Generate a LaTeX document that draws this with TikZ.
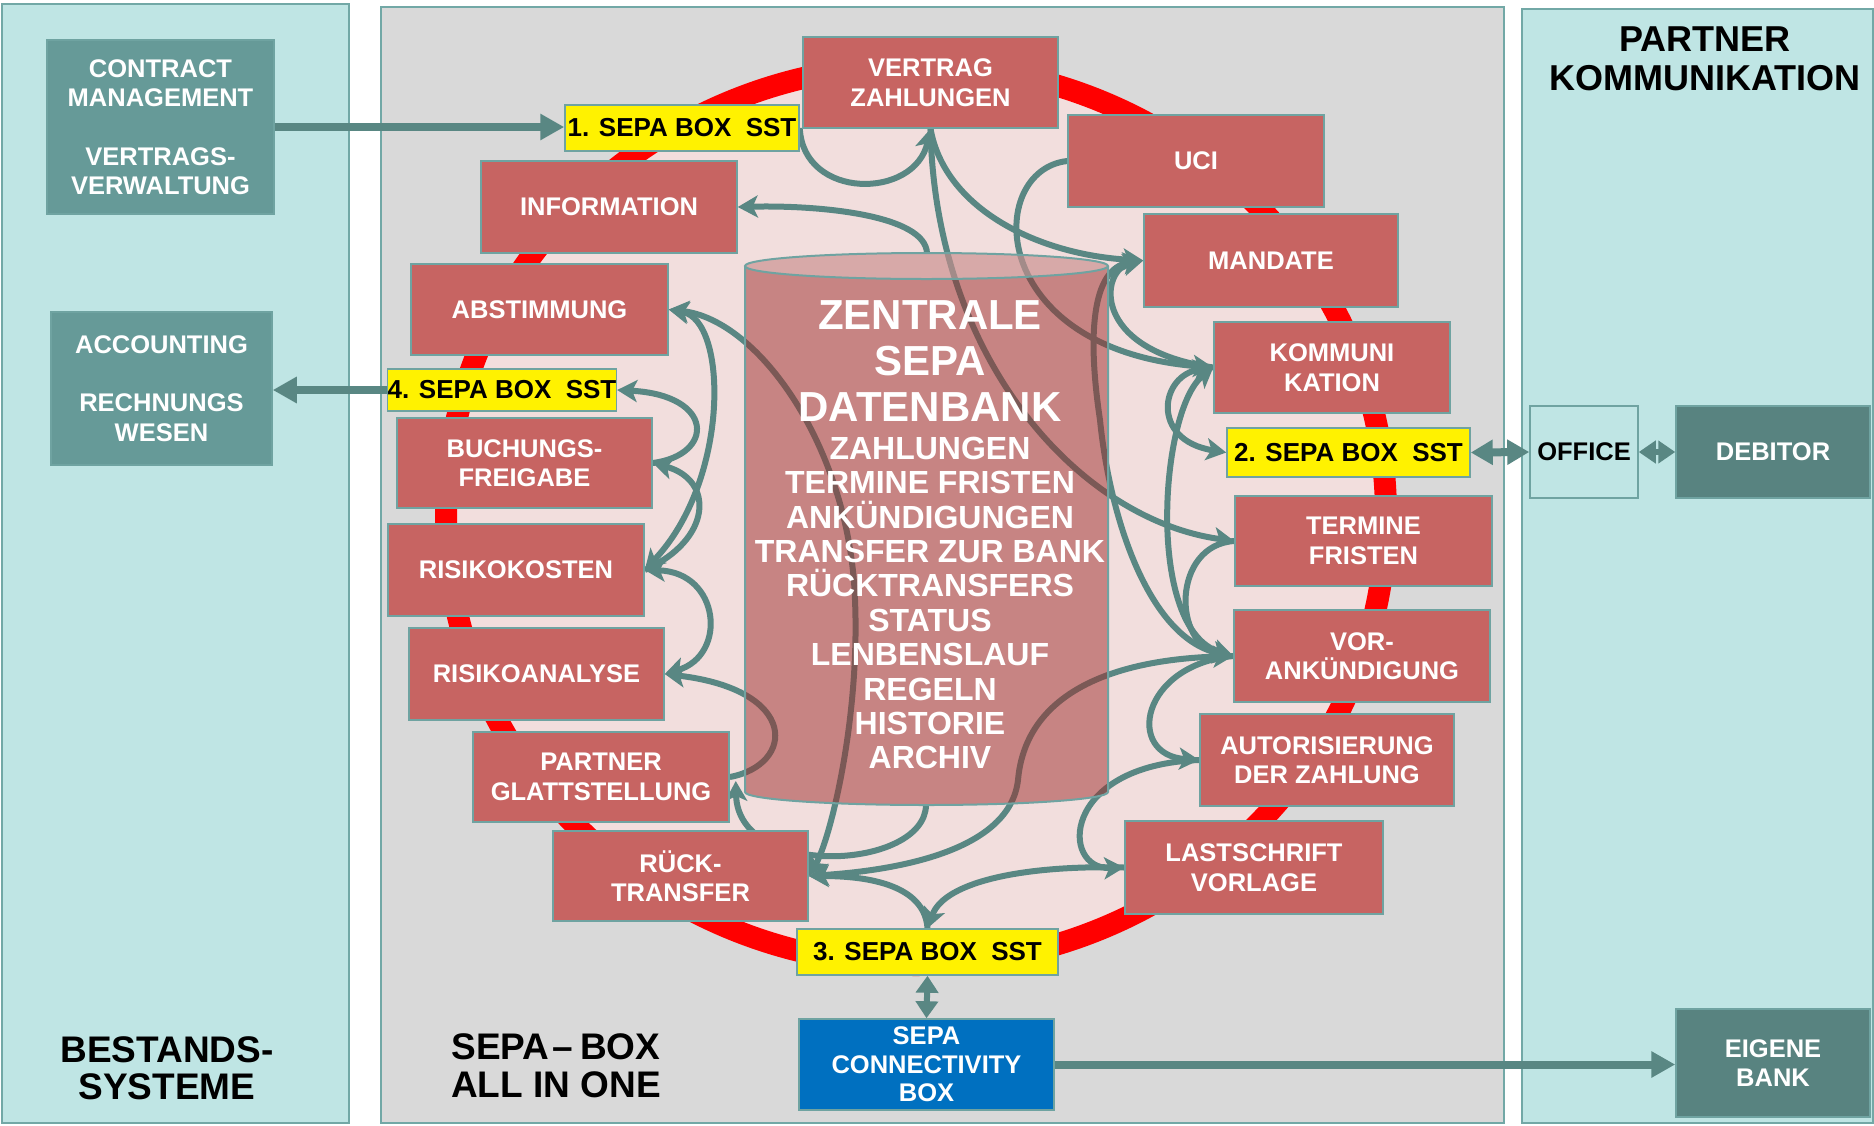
\documentclass[tikz,border=0pt]{standalone}
\usepackage{fontspec}
\setmainfont{Liberation Sans}
\usetikzlibrary{arrows.meta}
\pgfdeclarelayer{panels}
\pgfdeclarelayer{ringlayer}
\pgfdeclarelayer{arrowlayer}
\pgfdeclarelayer{cyllayer}
\pgfsetlayers{panels,ringlayer,arrowlayer,cyllayer,main}
\definecolor{panelcyan}{HTML}{BFE5E4}
\definecolor{panelline}{HTML}{72A8A6}
\definecolor{midgray}{HTML}{D9D9D9}
\definecolor{pinkbg}{HTML}{F2DEDD}
\definecolor{boxred}{HTML}{C76462}
\definecolor{boxline}{HTML}{6FA3A1}
\definecolor{tealfill}{HTML}{669A98}
\definecolor{darkteal}{HTML}{588380}
\definecolor{arrowc}{HTML}{598783}
\definecolor{connblue}{HTML}{0070C0}
\definecolor{cylbody}{HTML}{9E2C2B}
\definecolor{ringred}{HTML}{FF0000}
\tikzset{
  bx/.style={draw=boxline, line width=1.5pt, inner sep=0pt, align=center, text=white,
    font=\fontsize{25.5}{29.5}\selectfont\bfseries},
  redbx/.style={bx, fill=boxred},
  yelbx/.style={bx, fill=yellow, text=black, font=\fontsize{26}{30}\selectfont\bfseries},
  tealbx/.style={bx, fill=tealfill},
  dkbx/.style={bx, fill=darkteal},
  bluebx/.style={bx, fill=connblue, font=\fontsize{25.5}{28.5}\selectfont\bfseries},
  officebx/.style={bx, fill=panelcyan, text=black},
  titletxt/.style={align=center, text=black, inner sep=0pt},
  cyltxt/.style={align=center, text=white, inner sep=0pt},
  con/.style={draw=arrowc, line width=6pt,
    >={Stealth[length=20pt,width=22pt,inset=5pt]}},
  bigarr/.style={draw=arrowc, line width=8pt, -{Triangle[length=24pt,width=25pt]}},
  dblarr/.style={draw=arrowc, line width=8pt,
    {Triangle[length=22pt,width=24pt]}-{Triangle[length=22pt,width=24pt]}},
  smalldbl/.style={draw=arrowc, line width=6pt,
    {Triangle[length=17pt,width=22pt]}-{Triangle[length=17pt,width=22pt]}},
  panel/.style={draw=panelline, line width=1.5pt}
}
\begin{document}
\begin{tikzpicture}[x=1pt,y=-1pt]
\useasboundingbox (0,0) rectangle (1874,1125);
\begin{pgfonlayer}{panels}
\fill[white] (0,0) rectangle (1874,1125);
\draw[panel, fill=panelcyan] (2,4) rectangle (349,1123);
\draw[panel, fill=midgray] (381,7) rectangle (1504,1123);
\draw[panel, fill=panelcyan] (1522,9) rectangle (1873,1123);
\end{pgfonlayer}
\begin{pgfonlayer}{ringlayer}
\fill[pinkbg] (916,515) ellipse[x radius=470, y radius=450];
\draw[ringred, line width=22pt] (916,515) ellipse[x radius=470, y radius=450];
\end{pgfonlayer}

% boxes
\node[tealbx, minimum width=227pt, minimum height=174pt] (contract) at (160.5,127) {CONTRACT\\MANAGEMENT\\[29pt]VERTRAGS-\\VERWALTUNG};
\node[tealbx, minimum width=221pt, minimum height=153pt] (account) at (161.5,388.5) {ACCOUNTING\\[29pt]RECHNUNGS\\WESEN};
\node[titletxt, font=\fontsize{37}{37}\selectfont\bfseries] (bestands) at (167,1068) {BESTANDS-\\SYSTEME};

\node[yelbx, minimum width=234pt, minimum height=46pt] (sepa1) at (682,128) {1. SEPA BOX\ \ SST};
\node[redbx, minimum width=255pt, minimum height=91pt] (vertrag) at (930.5,82.5) {VERTRAG\\ZAHLUNGEN};
\node[redbx, minimum width=256pt, minimum height=92pt] (info) at (609,207) {INFORMATION};
\node[redbx, minimum width=257pt, minimum height=91pt] (abst) at (539.5,309.5) {ABSTIMMUNG};
\node[yelbx, minimum width=226pt, minimum height=42pt] (sepa4) at (502,390) {4. SEPA BOX\ \ SST};
\node[redbx, minimum width=255pt, minimum height=90pt] (buchungs) at (524.5,463) {BUCHUNGS-\\FREIGABE};
\node[redbx, minimum width=256pt, minimum height=92pt] (risikok) at (516,570) {RISIKOKOSTEN};
\node[redbx, minimum width=255pt, minimum height=92pt] (risikoan) at (536.5,674) {RISIKOANALYSE};
\node[redbx, minimum width=256pt, minimum height=90pt] (partner) at (601,777) {PARTNER\\GLATTSTELLUNG};
\node[redbx, minimum width=255pt, minimum height=90pt] (rueck) at (680.5,876) {RÜCK-\\TRANSFER};
\node[yelbx, minimum width=261pt, minimum height=46pt] (sepa3) at (927.5,952) {3. SEPA BOX\ \ SST};
\node[bluebx, minimum width=255pt, minimum height=91pt] (conn) at (926.5,1064.5) {SEPA\\CONNECTIVITY\\BOX};
\node[titletxt, font=\fontsize{37}{38}\selectfont\bfseries] (sepaall) at (556,1066) {SEPA\kern3pt–\kern7pt BOX\\ALL IN ONE};

\node[redbx, minimum width=256pt, minimum height=92pt] (uci) at (1196,161) {UCI};
\node[redbx, minimum width=254pt, minimum height=93pt] (mandate) at (1271,260.5) {MANDATE};
\node[redbx, minimum width=236pt, minimum height=91pt] (kommuni) at (1332,367.5) {KOMMUNI\\KATION};
\node[yelbx, minimum width=243pt, minimum height=49pt] (sepa2) at (1348.5,452.5) {2. SEPA BOX\ \ SST};
\node[redbx, minimum width=257pt, minimum height=90pt] (termine) at (1363.5,541) {TERMINE\\FRISTEN};
\node[redbx, minimum width=256pt, minimum height=92pt] (vor) at (1362,656) {VOR-\\ANKÜNDIGUNG};
\node[redbx, minimum width=254pt, minimum height=92pt] (autor) at (1327,760) {AUTORISIERUNG\\DER ZAHLUNG};
\node[redbx, minimum width=258pt, minimum height=93pt] (last) at (1254,867.5) {LASTSCHRIFT\\VORLAGE};

\node[titletxt, font=\fontsize{36}{39}\selectfont\bfseries] (ptitle) at (1705,59) {PARTNER\\KOMMUNIKATION};
\node[officebx, minimum width=108pt, minimum height=92pt] (office) at (1584,452) {OFFICE};
\node[dkbx, minimum width=194pt, minimum height=92pt] (debitor) at (1773,452) {DEBITOR};
\node[dkbx, minimum width=194pt, minimum height=108pt] (eigene) at (1773,1063) {EIGENE\\BANK};

\coordinate (cyltop) at (927,253);
\coordinate (cylbot) at (926,805);

\begin{pgfonlayer}{arrowlayer}
% straight connectors
\draw[bigarr] (contract.east) -- (contract.east -| sepa1.west);
\draw[bigarr] (sepa4.west) -- (sepa4.west -| account.east);
\draw[dblarr] (sepa2.east) -- (office.west);
\draw[smalldbl] (office.east) -- (debitor.west);
\draw[smalldbl] (sepa3.south) -- (conn.north);
\draw[bigarr] (conn.east) -- (conn.east -| eigene.west);
% curved connectors, left side
\draw[con,->] (sepa1.east) .. controls (803,200) and (915,200) .. (vertrag.south);
\draw[con,->] (cyltop) .. controls (925,215) and (820,205) .. (info.east);
\draw[con,<->] (abst.east) .. controls (760,320) and (850,450) .. (855,600) .. controls (860,720) and (830,840) .. (rueck.east);
\draw[con,<->] (abst.east) .. controls (728,320) and (730,480) .. (risikok.east);
\draw[con,->] (risikok.east) .. controls (712,540) and (715,480) .. (buchungs.east);
\draw[con,->] (buchungs.east) .. controls (715,455) and (715,395) .. (sepa4.east);
\draw[con,<->] (risikok.east) .. controls (720,572) and (728,655) .. (risikoan.east);
\draw[con,->] (partner.east) .. controls (795,765) and (800,690) .. (risikoan.east);
\draw[con,->] (cylbot) .. controls (925,870) and (738,880) .. ([xshift=6pt,yshift=-4pt]partner.east);
\draw[con,->] (sepa3.north) .. controls (925,890) and (880,876) .. (rueck.east);
% curved connectors, right side
\draw[con,->] (vertrag.south) .. controls (945,210) and (1040,255) .. (mandate.west);
\draw[con,->] (vertrag.south) .. controls (935,360) and (1080,520) .. (termine.west);
\draw[con,<->] (vor.west) .. controls (1100,660) and (1025,700) .. (1018,780) .. controls (1010,850) and (900,870) .. (rueck.east);
\draw[con,->] (last.west) .. controls (1030,865) and (945,880) .. (sepa3.north);
\draw[con,->] (autor.west) .. controls (1060,765) and (1060,870) .. (last.west);
\draw[con,->] (vor.west) .. controls (1140,665) and (1125,755) .. (autor.west);
\draw[con,->] (termine.west) .. controls (1172,545) and (1172,645) .. (vor.west);
\draw[con,<->] (kommuni.west) .. controls (1160,410) and (1145,630) .. (vor.west);
\draw[con,<->] (kommuni.west) .. controls (1160,375) and (1150,440) .. (sepa2.west);
\draw[con,->] (uci.west) .. controls (985,170) and (985,350) .. (kommuni.west);
\draw[con,<-] (mandate.west) .. controls (1100,270) and (1090,350) .. (kommuni.west);
\draw[con,<->] (mandate.west) .. controls (1090,268) and (1088,340) .. (1100,420) .. controls (1110,520) and (1150,640) .. (vor.west);
\end{pgfonlayer}

\begin{pgfonlayer}{cyllayer}
\fill[cylbody, opacity=0.5] (745,266) -- (745,792)
  arc[start angle=180, end angle=360, x radius=181.5pt, y radius=13pt] -- (1108,266)
  arc[start angle=0, end angle=180, x radius=181.5pt, y radius=13pt] -- cycle;
\fill[white, opacity=0.3] (926.5,266) ellipse[x radius=181.5, y radius=13];
\draw[boxline, line width=2pt] (745,266) -- (745,792)
  arc[start angle=180, end angle=360, x radius=181.5pt, y radius=13pt] -- (1108,266);
\draw[boxline, line width=2pt] (926.5,266) ellipse[x radius=181.5, y radius=13];
\node[cyltxt, font=\fontsize{42}{46}\selectfont\bfseries] (cyltitle) at (930,361) {ZENTRALE\\SEPA\\DATENBANK};
\node[cyltxt, font=\fontsize{32}{34.4}\selectfont\bfseries] (cyllist) at (930,603) {ZAHLUNGEN\\TERMINE FRISTEN\\ANKÜNDIGUNGEN\\TRANSFER ZUR BANK\\RÜCKTRANSFERS\\STATUS\\LENBENSLAUF\\REGELN\\HISTORIE\\ARCHIV};
\end{pgfonlayer}
\end{tikzpicture}
\end{document}
